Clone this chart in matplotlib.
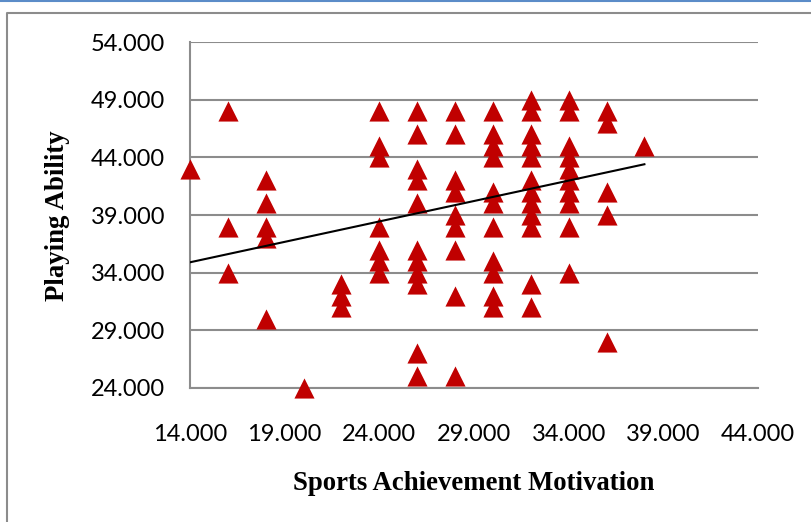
import numpy as np
import matplotlib
matplotlib.use("Agg")
from matplotlib import pyplot as plt
from matplotlib.lines import Line2D

# 数据: 每个 x (运动成就动机) 对应的若干 y (运动能力)
motivation_levels = [14, 16, 18, 20, 22, 24, 26, 28, 30, 32, 34, 36, 38]
ability_by_level = [
    [43],
    [48, 38, 34],
    [42, 40, 38, 37, 30],
    [24],
    [33, 32, 31],
    [48, 45, 44, 38, 36, 35, 34],
    [48, 46, 43, 42, 40, 36, 35, 34, 33, 27, 25],
    [48, 46, 42, 41, 39, 38, 36, 32, 25],
    [48, 46, 45, 44, 41, 40, 38, 35, 34, 32, 31],
    [49, 48, 46, 45, 44, 42, 41, 40, 39, 38, 33, 31],
    [49, 48, 45, 44, 43, 42, 41, 40, 38, 34],
    [48, 47, 41, 39, 28],
    [45],
]
# 趋势线 (从图上读出的两端值, 原图重叠点看不出来)
trend_x = [14, 38]
trend_y = [34.9, 43.4]
x_ticks = [14, 19, 24, 29, 34, 39, 44]
y_ticks = [24, 29, 34, 39, 44, 49, 54]
x_title = "Sports Achievement Motivation"
y_title = "Playing Ability"

x_data = []
y_data = []
for xv, ys in zip(motivation_levels, ability_by_level):
    for yv in ys:
        x_data.append(xv)
        y_data.append(yv)

W, H = 812, 522
fig = plt.figure(figsize=(W / 100, H / 100), dpi=100)
ax = fig.add_axes([190 / W, 1 - 388 / H, (758 - 190) / W, (388 - 42) / H])

# 散点
ax.scatter(x_data, y_data, marker='^', s=210, color='#C00000', linewidths=0,
           zorder=3, clip_on=False)

# 线性趋势线
ax.plot(trend_x, trend_y, color='black', lw=1.5, zorder=4)

ax.set_xlim(14, 44)
ax.set_ylim(24, 54)
ax.set_xticks(x_ticks)
ax.set_yticks(y_ticks)
ax.set_xticklabels(["%.3f" % v for v in x_ticks])
ax.set_yticklabels(["%.3f" % v for v in y_ticks])
ax.tick_params(length=0, labelsize=17, labelcolor='black')
ax.tick_params(axis='x', pad=26)
ax.tick_params(axis='y', pad=18)
for lab in ax.get_xticklabels() + ax.get_yticklabels():
    lab.set_family(['Lato', 'DejaVu Sans'])

ax.grid(axis='y', color='#8C8C8C', lw=1.5)
ax.set_axisbelow(True)
for side in ['top', 'right']:
    ax.spines[side].set_visible(False)
for side in ['left', 'bottom']:
    ax.spines[side].set_color('#8C8C8C')
    ax.spines[side].set_linewidth(1.5)

fig.text(474 / W, 1 - 483 / H, x_title, ha='center', va='center',
         family='Liberation Serif', weight='bold', fontsize=19.3)
fig.text(58 / W, 1 - 216 / H, y_title, ha='center', va='center', rotation=90,
         family='Liberation Serif', weight='bold', fontsize=19.3)

# 外框和顶部蓝线
fig.add_artist(Line2D([0, 1], [1 - 0.8 / H, 1 - 0.8 / H], color='#5B8CC8', lw=1.5))
fig.add_artist(Line2D([6.5 / W, 6.5 / W, 1.0], [0.0, 1 - 13 / H, 1 - 13 / H],
                      color='#8C8C8C', lw=1.5))

fig.savefig("out.png", dpi=100)
